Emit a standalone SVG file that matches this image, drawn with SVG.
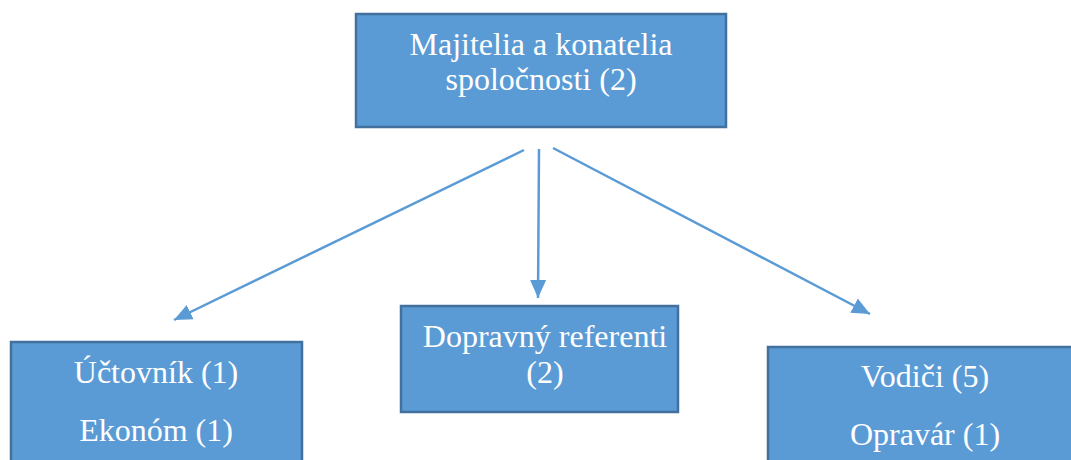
<svg xmlns="http://www.w3.org/2000/svg" width="1071" height="460" viewBox="0 0 1071 460">
<style>
.box{fill:#5B9BD5;stroke:#41719C;stroke-width:2.5}
.t{font-family:"Liberation Serif","Times New Roman",serif;font-size:32px;fill:#FFFFFF;text-anchor:middle}
.c{stroke:#5B9BD5;stroke-width:2.5;fill:none;marker-end:url(#ah)}
</style>
<defs>
<marker id="ah" markerUnits="userSpaceOnUse" markerWidth="20" markerHeight="20" viewBox="0 0 20 20" refX="18" refY="10" orient="auto">
<path d="M0,2 L18,10 L0,18 Z" fill="#5B9BD5"/>
</marker>
</defs>
<rect width="1071" height="460" fill="#FFFFFF"/>
<g id="connectors">
<line class="c" x1="524" y1="150" x2="174" y2="320"/>
<line class="c" x1="539" y1="149" x2="538" y2="298"/>
<line class="c" x1="553" y1="148" x2="870" y2="314"/>
</g>
<g id="node-owners">
<rect class="box" x="356" y="14" width="370" height="113"/>
<text class="t" x="541" y="55">Majitelia a konatelia</text>
<text class="t" x="541" y="90">spoločnosti (2)</text>
</g>
<g id="node-accountant">
<rect class="box" x="11" y="342" width="291" height="130"/>
<text class="t" x="156" y="383">Účtovník (1)</text>
<text class="t" x="156" y="441">Ekonóm (1)</text>
</g>
<g id="node-dispatch">
<rect class="box" x="401" y="306" width="277" height="106"/>
<text class="t" x="545" y="347">Dopravný referenti</text>
<text class="t" x="545" y="383">(2)</text>
</g>
<g id="node-drivers">
<rect class="box" x="768" y="347" width="320" height="130"/>
<text class="t" x="925" y="387">Vodiči (5)</text>
<text class="t" x="925" y="445">Opravár (1)</text>
</g>
</svg>
